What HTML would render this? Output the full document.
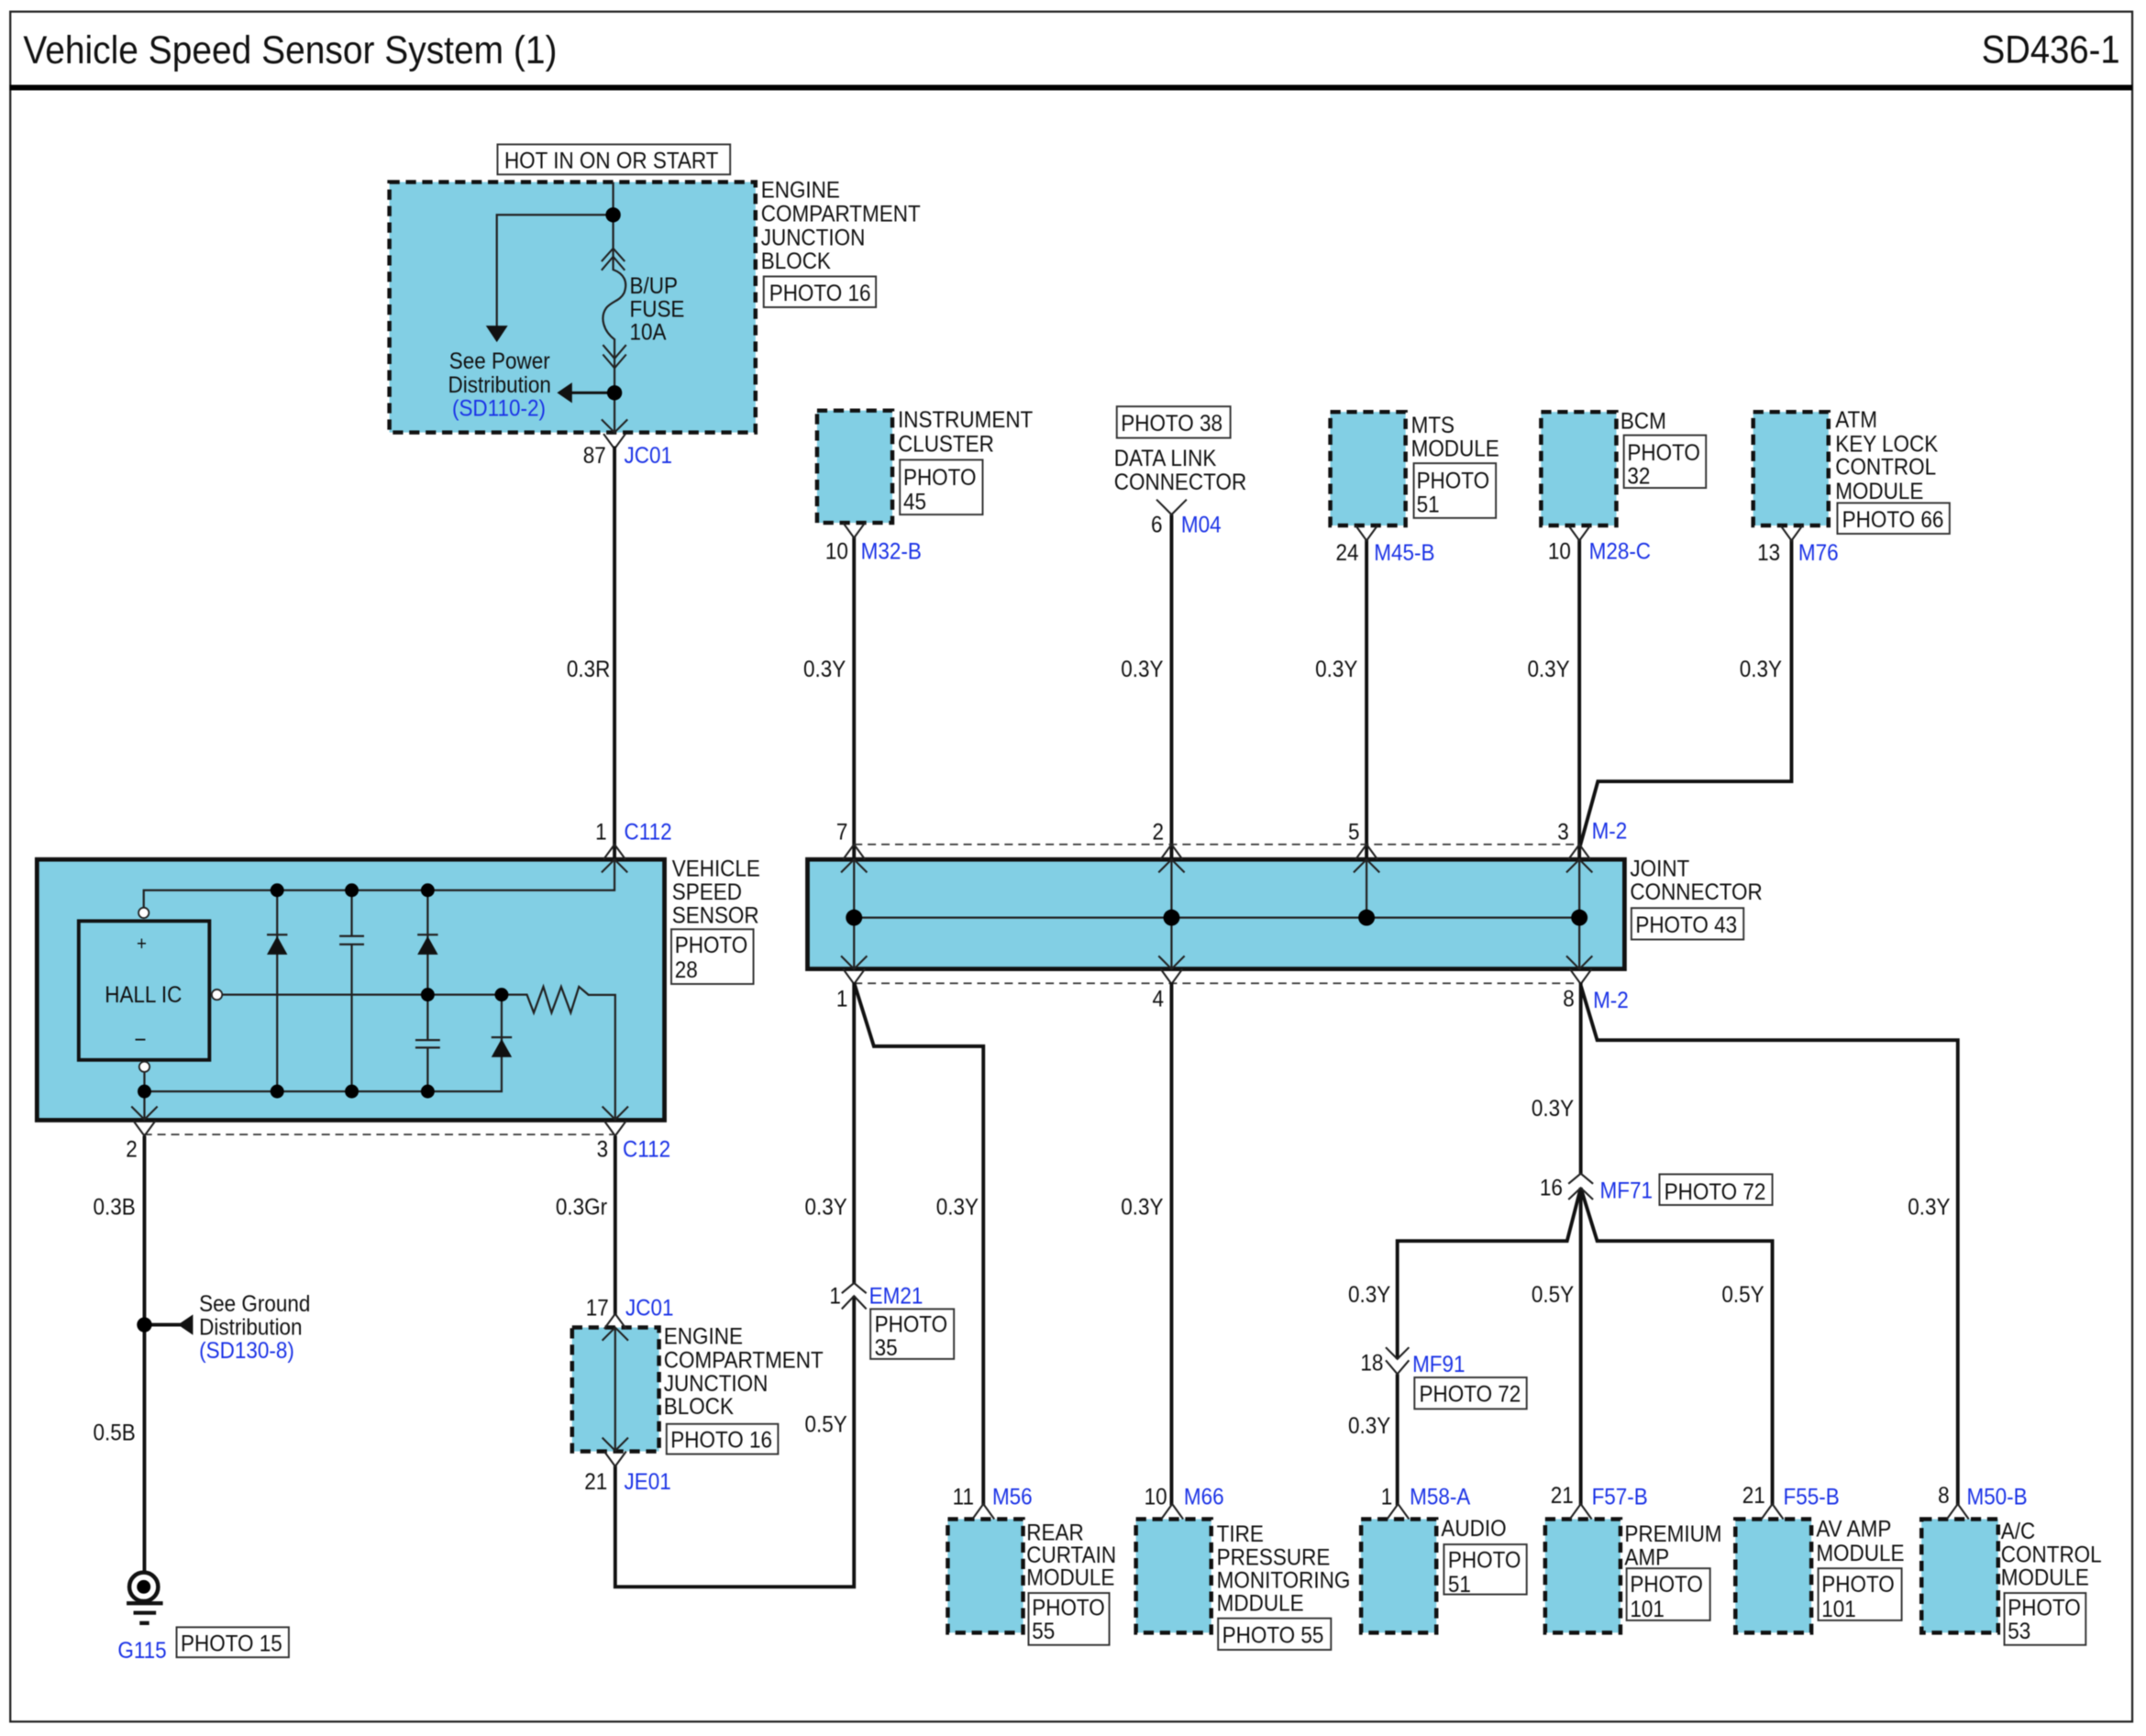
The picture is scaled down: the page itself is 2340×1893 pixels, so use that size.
<!DOCTYPE html>
<html><head><meta charset="utf-8"><title>Vehicle Speed Sensor System (1)</title>
<style>
html,body{margin:0;padding:0;background:#fff;width:2340px;height:1893px;overflow:hidden}
svg{display:block;filter:blur(.5px)}
text{font-family:"Liberation Sans",sans-serif;font-size:16.8px;fill:#111;dominant-baseline:central;transform-box:fill-box;transform-origin:left center;transform:translateY(1.1px) scaleX(.897)}
text[text-anchor=middle]{transform-origin:center center}
text[text-anchor=end]{transform-origin:right center}
.b,.b text{fill:#1a32e6}
.w{fill:none;stroke:#111;stroke-width:2.6;stroke-linejoin:miter}
.t{fill:none;stroke:#222;stroke-width:1.5}
.c{fill:none;stroke:#222;stroke-width:1.4}
.m{fill:#82cfe4;stroke:#111;stroke-width:3;stroke-dasharray:7.5 4.5}
.s{fill:#82cfe4;stroke:#111;stroke-width:3.2}
.p{fill:#fff;stroke:#333;stroke-width:1.3}
.d{fill:none;stroke:#333;stroke-width:1.2;stroke-dasharray:6 4}
</style></head><body>
<svg width="2340" height="1893" viewBox="0 0 1568 1268.5" xmlns="http://www.w3.org/2000/svg">
<defs>
<path id="cd" class="c" d="M-9.5,-9.5L0,0L9.5,-9.5"/>
<path id="cu" class="c" d="M-9.5,9.5L0,0L9.5,9.5"/>
<path id="od" class="c" d="M-8,0L0,11L8,0"/>
<path id="ou" class="c" d="M-8,0L0,-11L8,0"/>
</defs>
<rect width="1568" height="1268.5" fill="#fff"/>
<rect x="7.5" y="8.5" width="1550.5" height="1249.5" fill="none" stroke="#222" stroke-width="1.5"/>
<rect x="7" y="62" width="1551" height="4" fill="#000"/>
<text x="17" y="36.5" style="font-size:28.3px;transform:scaleX(.922)">Vehicle Speed Sensor System (1)</text>
<text x="1549" y="36.5" text-anchor="end" style="font-size:28.3px;transform:scaleX(.905)">SD436-1</text>

<!-- boxes -->
<rect class="m" x="284.5" y="133" width="267.5" height="183"/>
<rect class="m" x="597" y="300" width="55" height="82"/>
<rect class="m" x="972" y="301" width="55" height="83"/>
<rect class="m" x="1126" y="301" width="55" height="83"/>
<rect class="m" x="1281" y="301" width="55" height="83"/>
<rect class="m" x="418" y="970" width="63.5" height="90.5"/>
<rect class="m" x="692.5" y="1110" width="55" height="83"/>
<rect class="m" x="830" y="1110" width="55" height="83"/>
<rect class="m" x="994.5" y="1110" width="55" height="83"/>
<rect class="m" x="1129" y="1110" width="55" height="83"/>
<rect class="m" x="1268" y="1110" width="55.5" height="83"/>
<rect class="m" x="1404" y="1110" width="56" height="83"/>
<rect class="s" x="27" y="628" width="458.5" height="190.5"/>
<rect class="s" x="590" y="628" width="597" height="80"/>

<!-- top JB internals -->
<path class="t" d="M448,133V188M448,157H363V240M448,188V197C456,200 459,206 456,214C453,220 447,220 443,225C438,232 441,242 449,248V287M449,287H415M449,287V316"/>
<polygon points="355,238 371,238 363,250" fill="#111"/>
<polygon points="407,287 418,279.5 418,294.5" fill="#111"/>
<rect x="416" y="286" width="33" height="2" fill="#111"/>
<circle cx="448" cy="157" r="5.5" fill="#000"/>
<circle cx="449" cy="287" r="5.5" fill="#000"/>
<path class="c" d="M439.5,191L448,181.5L456.5,191M439.5,197.5L448,187.5L456.5,197.5M440.5,252L449,262L457.5,252M440.5,259L449,269L457.5,259"/>
<use href="#cd" x="449" y="316"/><use href="#od" x="449" y="317"/>

<!-- wires upper -->
<path class="w" d="M449,326V628M624,392V628M856,376V628M998.5,394V628M1154,394V628"/>
<path class="w" d="M1309,394V571H1167.5L1154,620"/>
<use href="#od" x="624" y="382"/><use href="#od" x="998.5" y="384"/><use href="#od" x="1154" y="384"/><use href="#od" x="1309" y="384"/>
<path class="c" d="M845,365L856,376L867,365"/>
<path class="d" d="M624,617H1154M624,718.5H1155M105,829H449"/>
<!-- top connectors -->
<use href="#ou" x="449" y="628"/><use href="#cu" x="449" y="628"/>
<use href="#ou" x="624" y="628"/><use href="#cu" x="624" y="628"/>
<use href="#ou" x="856" y="628"/><use href="#cu" x="856" y="628"/>
<use href="#ou" x="998.5" y="628"/><use href="#cu" x="998.5" y="628"/>
<use href="#ou" x="1154" y="628"/><use href="#cu" x="1154" y="628"/>
<!-- joint internals -->
<path class="t" d="M624,628V708M856,628V708M1154,628V708M998.5,628V670.5M624,670.5H1154"/>
<circle cx="624" cy="670.5" r="6" fill="#000"/><circle cx="856" cy="670.5" r="6" fill="#000"/><circle cx="998.5" cy="670.5" r="6" fill="#000"/><circle cx="1154" cy="670.5" r="6" fill="#000"/>
<use href="#cd" x="624" y="708"/><use href="#od" x="624" y="708"/>
<use href="#cd" x="856" y="708"/><use href="#od" x="856" y="708"/>
<use href="#cd" x="1154" y="708"/><use href="#od" x="1155" y="708"/>

<!-- sensor internals -->
<rect x="57.5" y="673" width="95.5" height="101.5" fill="#82cfe4" stroke="#111" stroke-width="2.6"/>
<path class="t" d="M105,667V650.5H449V628M105.5,779.5V818M105.5,797.5H366.5V727M162,726.8H385L390,740L397,721L403,740L410,721L417,740L423,721L430,727H449.5V818M202.5,650.5V797.5M257,650.5V684M257,690V797.5M312.5,650.5V760M312.5,765.5V797.5"/>
<path class="t" d="M248,684H266M248,690H266M303.5,760H321.5M303.5,765.5H321.5M195,683H210M305,683H320M359,758H374"/>
<polygon points="202.5,684 195,697.5 210,697.5" fill="#111"/>
<polygon points="312.5,684 305,697.5 320,697.5" fill="#111"/>
<polygon points="366.5,759 359,772.5 374,772.5" fill="#111"/>
<g fill="#000"><circle cx="202.5" cy="650.5" r="5"/><circle cx="257" cy="650.5" r="5"/><circle cx="312.5" cy="650.5" r="5"/><circle cx="312.5" cy="726.8" r="5"/><circle cx="366.5" cy="726.8" r="5"/><circle cx="105.5" cy="797.5" r="5"/><circle cx="202.5" cy="797.5" r="5"/><circle cx="257" cy="797.5" r="5"/><circle cx="312.5" cy="797.5" r="5"/></g>
<g fill="#fff" stroke="#222" stroke-width="1.2"><circle cx="105" cy="667" r="3.8"/><circle cx="158.5" cy="726.8" r="3.8"/><circle cx="105.5" cy="779.5" r="3.8"/></g>
<use href="#cd" x="105.5" y="818"/><use href="#od" x="105.5" y="819"/>
<use href="#cd" x="449.5" y="818"/><use href="#od" x="449.5" y="819"/>

<!-- wires lower left -->
<path class="w" d="M105.5,830V1149M105.5,968H135"/>
<polygon points="130,968 141,960.5 141,975.5" fill="#111"/>
<circle cx="105.5" cy="968" r="5.5" fill="#000"/>
<ellipse cx="105" cy="1159.5" rx="10.5" ry="10.5" fill="#fff" stroke="#111" stroke-width="3"/>
<circle cx="105" cy="1159.5" r="5" fill="#000"/>
<path d="M92.5,1171.5H119M97.5,1178.5H114M102,1186H109" stroke="#111" stroke-width="2.8" fill="none"/>
<path class="w" d="M449.5,830V961M449.5,1071V1159.5H624V947"/>
<use href="#ou" x="449.5" y="971"/><use href="#cu" x="449.5" y="970"/>
<path class="t" d="M449.5,970V1060"/>
<use href="#cd" x="449.5" y="1060"/><use href="#od" x="449.5" y="1060.5"/>
<path class="w" d="M624,718V938M624,718L638.5,764.5H718.5V1100"/>
<path class="c" d="M615,945L624,937.5L633,945M615,956.5L624,947L633,956.5"/>

<path class="w" d="M856,718V1100"/>
<path class="w" d="M1155,718V858M1155,720L1167,760H1430.5V1100M1155,868V1100"/>
<path class="w" d="M1155,868L1145,906.8H1021V993M1155,868L1167,906.8H1295V1100M1021,1004V1100"/>
<path class="c" d="M1146,865L1155,857.5L1164,865M1146,876.5L1155,868L1164,876.5"/>
<path class="c" d="M1012.5,984.5L1021,993L1029.5,984.5M1012.5,994L1021,1004L1029.5,994"/>
<g>
<use href="#ou" x="718.5" y="1110"/><use href="#ou" x="856.5" y="1110"/><use href="#ou" x="1021.5" y="1110"/><use href="#ou" x="1155" y="1110"/><use href="#ou" x="1295" y="1110"/><use href="#ou" x="1430.5" y="1110"/>
</g>

<!-- photo boxes -->
<rect class="p" x="363.5" y="105.5" width="170" height="22"/>
<rect class="p" x="558" y="202" width="82" height="22.5"/>
<rect class="p" x="657.5" y="336" width="60.5" height="40"/>
<rect class="p" x="816" y="297" width="83" height="23"/>
<rect class="p" x="1033" y="338.5" width="60" height="40"/>
<rect class="p" x="1186.5" y="318" width="60" height="38.5"/>
<rect class="p" x="1342.5" y="367.5" width="82" height="22.5"/>
<rect class="p" x="490.5" y="679" width="60" height="40"/>
<rect class="p" x="1192" y="663.5" width="82" height="23"/>
<rect class="p" x="636" y="956.5" width="61" height="36.5"/>
<rect class="p" x="487" y="1040.5" width="81.5" height="22"/>
<rect class="p" x="129" y="1189" width="82" height="22"/>
<rect class="p" x="1212.5" y="858" width="82.5" height="22.5"/>
<rect class="p" x="1033.5" y="1006.5" width="82" height="23"/>
<rect class="p" x="751.5" y="1164" width="59" height="38"/>
<rect class="p" x="890" y="1182.5" width="82.5" height="23"/>
<rect class="p" x="1055" y="1128.5" width="60.5" height="36.5"/>
<rect class="p" x="1188.5" y="1146" width="61" height="38"/>
<rect class="p" x="1328.5" y="1146" width="61" height="38"/>
<rect class="p" x="1464.5" y="1164" width="59.5" height="38"/>

<!-- labels -->
<text x="368.5" y="116.5">HOT IN ON OR START</text>
<text x="556" y="138">ENGINE</text><text x="556" y="155.5">COMPARTMENT</text><text x="556" y="173">JUNCTION</text><text x="556" y="190">BLOCK</text>
<text x="562" y="213.5">PHOTO 16</text>
<text x="460" y="208">B/UP</text><text x="460" y="225">FUSE</text><text x="460" y="242">10A</text>
<text x="365" y="263" text-anchor="middle">See Power</text><text x="365" y="280.5" text-anchor="middle">Distribution</text>
<text x="364.5" y="297.5" text-anchor="middle" class="b">(SD110-2)</text>
<text x="426" y="332">87</text><text x="456" y="332" class="b">JC01</text>
<text x="414" y="488">0.3R</text>
<text x="435" y="607">1</text><text x="456" y="607" class="b">C112</text>

<text x="656" y="306">INSTRUMENT</text><text x="656" y="323.5">CLUSTER</text>
<text x="660" y="348">PHOTO</text><text x="660" y="366">45</text>
<text x="603" y="402">10</text><text x="629" y="402" class="b">M32-B</text>
<text x="587" y="488">0.3Y</text><text x="611" y="607">7</text>

<text x="819" y="308.5">PHOTO 38</text>
<text x="814" y="334">DATA LINK</text><text x="814" y="351.5">CONNECTOR</text>
<text x="841" y="382.5">6</text><text x="863" y="382.5" class="b">M04</text>
<text x="819" y="488">0.3Y</text><text x="842" y="607">2</text>

<text x="1031" y="310">MTS</text><text x="1031" y="327">MODULE</text>
<text x="1035" y="350.5">PHOTO</text><text x="1035" y="368">51</text>
<text x="976" y="403">24</text><text x="1004" y="403" class="b">M45-B</text>
<text x="961" y="488">0.3Y</text><text x="985" y="607">5</text>

<text x="1184" y="307">BCM</text>
<text x="1189" y="330">PHOTO</text><text x="1189" y="347">32</text>
<text x="1131" y="402">10</text><text x="1161" y="402" class="b">M28-C</text>
<text x="1116" y="488">0.3Y</text><text x="1138" y="607">3</text><text x="1163" y="606.5" class="b">M-2</text>

<text x="1341" y="306">ATM</text><text x="1341" y="323.5">KEY LOCK</text><text x="1341" y="340.5">CONTROL</text><text x="1341" y="358">MODULE</text>
<text x="1346" y="379">PHOTO 66</text>
<text x="1284" y="403">13</text><text x="1314" y="403" class="b">M76</text>
<text x="1271" y="488">0.3Y</text>

<text x="491" y="634">VEHICLE</text><text x="491" y="651">SPEED</text><text x="491" y="668">SENSOR</text>
<text x="493" y="690">PHOTO</text><text x="493" y="708">28</text>
<text x="1191" y="634">JOINT</text><text x="1191" y="651">CONNECTOR</text>
<text x="1195" y="675">PHOTO 43</text>

<text x="103.5" y="689" text-anchor="middle" style="font-size:14px">+</text>
<text x="104.7" y="726" text-anchor="middle">HALL IC</text>
<text x="102.5" y="759" text-anchor="middle">−</text>

<text x="92" y="839">2</text><text x="436" y="839">3</text><text x="455" y="839" class="b">C112</text>
<text x="68" y="881">0.3B</text><text x="406" y="881">0.3Gr</text><text x="68" y="1046">0.5B</text>
<text x="145.5" y="952">See Ground</text><text x="145.5" y="969">Distribution</text><text x="145.5" y="986" class="b">(SD130-8)</text>
<text x="86" y="1205" class="b">G115</text><text x="132" y="1200">PHOTO 15</text>
<text x="428" y="955">17</text><text x="457" y="955" class="b">JC01</text>
<text x="485" y="975.5">ENGINE</text><text x="485" y="993">COMPARTMENT</text><text x="485" y="1010">JUNCTION</text><text x="485" y="1027">BLOCK</text>
<text x="490" y="1051.5">PHOTO 16</text>
<text x="427" y="1082">21</text><text x="456" y="1082" class="b">JE01</text>

<text x="611" y="729">1</text><text x="588" y="881">0.3Y</text><text x="684" y="881">0.3Y</text>
<text x="606" y="946">1</text><text x="635" y="946" class="b">EM21</text>
<text x="639" y="967">PHOTO</text><text x="639" y="984">35</text>
<text x="588" y="1040">0.5Y</text>
<text x="842" y="729">4</text><text x="819" y="881">0.3Y</text>
<text x="1142" y="729">8</text><text x="1164" y="730" class="b">M-2</text>
<text x="1119" y="809">0.3Y</text><text x="1394" y="881">0.3Y</text>
<text x="1125" y="867">16</text><text x="1169" y="869" class="b">MF71</text><text x="1216" y="870">PHOTO 72</text>
<text x="985" y="945">0.3Y</text><text x="1119" y="945">0.5Y</text><text x="1258" y="945">0.5Y</text>
<text x="994" y="995">18</text><text x="1032" y="996" class="b">MF91</text><text x="1037" y="1018">PHOTO 72</text>
<text x="985" y="1041">0.3Y</text>

<text x="696" y="1093">11</text><text x="725" y="1093" class="b">M56</text>
<text x="750" y="1119">REAR</text><text x="750" y="1135.5">CURTAIN</text><text x="750" y="1152">MODULE</text>
<text x="754" y="1174">PHOTO</text><text x="754" y="1191">55</text>

<text x="836" y="1093">10</text><text x="865" y="1093" class="b">M66</text>
<text x="889" y="1120">TIRE</text><text x="889" y="1137">PRESSURE</text><text x="889" y="1154">MONITORING</text><text x="889" y="1170.5">MDDULE</text>
<text x="893" y="1194">PHOTO 55</text>

<text x="1009" y="1093">1</text><text x="1030" y="1093" class="b">M58-A</text>
<text x="1053" y="1116">AUDIO</text>
<text x="1058" y="1139">PHOTO</text><text x="1058" y="1157">51</text>

<text x="1133" y="1092">21</text><text x="1163" y="1093" class="b">F57-B</text>
<text x="1187" y="1120">PREMIUM</text><text x="1187" y="1137">AMP</text>
<text x="1191" y="1157">PHOTO</text><text x="1191" y="1175">101</text>

<text x="1273" y="1092">21</text><text x="1303" y="1093" class="b">F55-B</text>
<text x="1327" y="1116.5">AV AMP</text><text x="1327" y="1134">MODULE</text>
<text x="1331" y="1157">PHOTO</text><text x="1331" y="1175">101</text>

<text x="1416" y="1092">8</text><text x="1437" y="1093" class="b">M50-B</text>
<text x="1462" y="1118">A/C</text><text x="1462" y="1135">CONTROL</text><text x="1462" y="1152">MODULE</text>
<text x="1467" y="1174">PHOTO</text><text x="1467" y="1191">53</text>
</svg>
</body></html>
